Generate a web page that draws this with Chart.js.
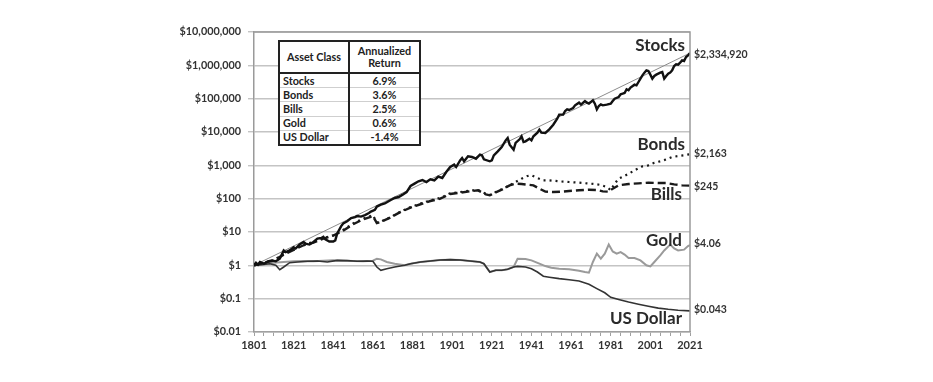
<!DOCTYPE html>
<html>
<head>
<meta charset="utf-8">
<script src="https://cdn.jsdelivr.net/npm/chart.js@4.4.1/dist/chart.umd.min.js"></script>
<style>
  html, body { margin: 0; padding: 0; background: #fff; }
  #wrap { position: relative; width: 933px; height: 382px; }
  #c { position: absolute; left: 0; top: 0; }
  #tbl {
    position: absolute; left: 278px; top: 40px; width: 141px; height: 106px;
    border-collapse: collapse; border: 2px solid #222; background: #fff;
    font-family: Lato, "Open Sans", sans-serif; font-weight: bold; font-size: 10.8px; color: #222;
    table-layout: fixed;
  }
  #tbl td, #tbl th { padding: 0 3px; line-height: 12px; border-bottom: 1px solid #cfcfcf; }
  #tbl th { font-weight: bold; text-align: center; border-bottom: 2px solid #222; height: 30px; }
  #tbl .c1 { border-right: 2px solid #222; text-align: left; }
  #tbl th.c1 { text-align: center; }
  #tbl .c2 { text-align: center; }
</style>
</head>
<body>
<div id="wrap">
  <canvas id="c" width="933" height="382"></canvas>
  <table id="tbl">
    <colgroup><col style="width:70px"><col style="width:71px"></colgroup>
    <thead><tr><th class="c1">Asset Class</th><th class="c2">Annualized<br>Return</th></tr></thead>
    <tbody id="tbody"></tbody>
  </table>
</div>
<script>
// ---------- data ----------
const stockYears = [1801,1802,1803,1804,1806,1808,1810,1812,1814,1816,1817,1819,1821,1822,1824,1826,1827,1829,1831,1833,1835,1836,1837,1839,1841,1842,1843,1845,1846,1848,1850,1852,1853,1855,1857,1859,1860,1862,1863,1865,1867,1870,1872,1874,1876,1878,1880,1882,1884,1886,1888,1890,1892,1894,1896,1898,1900,1902,1903,1905,1906,1907,1909,1911,1913,1915,1916,1917,1920,1921,1922,1924,1926,1928,1929,1930,1932,1933,1935,1936,1937,1938,1940,1941,1942,1944,1945,1946,1948,1950,1952,1954,1955,1957,1958,1959,1960,1962,1963,1965,1966,1968,1969,1970,1972,1973,1974,1975,1976,1977,1979,1981,1982,1983,1985,1986,1987,1988,1989,1990,1991,1993,1994,1995,1996,1997,1998,1999,2000,2001,2002,2003,2004,2006,2007,2008,2009,2010,2011,2012,2013,2014,2015,2016,2017,2018,2019,2020,2021];
const stockValues = [1,1.2,1.05,1.26,1.12,1.32,1.41,1.32,1.58,2.8,2.5,2.8,3.5,3.2,4.2,5.0,4.5,4.2,5.0,6.3,6.6,7.2,6.0,5.2,5.2,5.6,9.1,15,18,21,26,28,30,29,32,37,41,46,58,66,72,91,105,112,132,158,240,282,331,363,316,380,355,457,417,631,891,1050,891,1410,1660,1320,1860,1780,1580,2090,2000,1510,1320,1410,2000,2630,3550,5620,6610,4170,2950,4680,6030,7410,5010,5250,6310,5620,7410,9550,11750,9550,9330,12000,16600,25100,33100,33100,42700,47900,45700,52500,63100,75900,66100,85100,75900,70800,89100,70800,47900,60300,67600,63100,66100,70800,85100,100000,112000,135000,141000,148000,191000,178000,214000,263000,251000,316000,398000,501000,603000,708000,676000,525000,398000,479000,525000,603000,631000,398000,479000,562000,603000,708000,955000,1070000,1050000,1200000,1410000,1350000,1780000,2000000,2334920];

const bondYears = [1801,1806,1811,1816,1821,1826,1831,1836,1841,1846,1851,1856,1861,1863,1865,1870,1875,1880,1885,1890,1895,1900,1905,1910,1914,1918,1920,1923,1926,1930,1933,1936,1939,1941,1944,1947,1950,1955,1960,1965,1969,1973,1976,1979,1981,1983,1985,1988,1991,1994,1997,2000,2003,2006,2009,2012,2015,2018,2021];
const bondValues = [1,1.2,1.4,2.2,3.0,4.2,5.0,6.5,8.0,11.5,18,25,32,19,20.4,28,41,56,71,89,105,145,158,174,182,141,129,158,190,251,316,398,479,501,417,355,355,331,316,302,288,275,257,224,182,282,398,479,603,759,933,1000,1200,1320,1510,1780,1900,2000,2163];

const billYears = [1801,1806,1811,1816,1821,1826,1831,1836,1841,1846,1851,1856,1861,1863,1865,1870,1875,1880,1885,1890,1895,1900,1905,1910,1914,1918,1920,1923,1926,1930,1933,1936,1939,1942,1945,1948,1952,1956,1960,1965,1970,1974,1977,1980,1982,1985,1990,1995,2000,2005,2009,2013,2017,2021];
const billValues = [1,1.2,1.4,2.1,2.9,4.0,4.8,6.3,7.8,11,17,24,30,18.6,20,27.5,40,54,68,85,100,138,151,166,178,135,126,155,186,251,282,275,263,251,200,162,158,162,170,178,186,182,166,162,200,251,275,288,302,295,295,269,251,245];

const goldYears = [1801,1806,1811,1816,1821,1826,1831,1836,1841,1846,1851,1856,1861,1863,1865,1868,1872,1877,1880,1885,1890,1895,1900,1905,1910,1915,1917,1920,1923,1926,1929,1932,1934,1938,1941,1945,1948,1951,1955,1960,1965,1968,1970,1972,1974,1976,1978,1980,1982,1984,1986,1988,1990,1993,1996,1999,2001,2003,2006,2008,2011,2013,2015,2018,2020,2021];
const goldValues = [1,1.12,1.2,1.26,1.32,1.35,1.32,1.38,1.41,1.38,1.35,1.32,1.38,1.58,1.51,1.26,1.12,1.0,1.12,1.26,1.35,1.45,1.48,1.45,1.35,1.26,1.12,0.63,0.71,0.71,0.76,0.89,1.58,1.55,1.41,1.12,0.95,0.85,0.79,0.76,0.69,0.63,0.6,1.26,2.24,1.58,2.24,4.2,2.6,2.24,2.5,2.1,1.66,1.66,1.41,1.0,0.93,1.26,2.0,2.8,4.2,3.2,2.8,2.95,3.8,4.06];

const dollarYears = [1801,1805,1809,1812,1814,1816,1819,1823,1828,1833,1838,1843,1848,1853,1858,1861,1863,1865,1868,1872,1877,1880,1885,1890,1895,1900,1905,1910,1915,1917,1920,1923,1926,1929,1932,1934,1938,1941,1944,1947,1950,1955,1960,1965,1970,1974,1978,1981,1985,1990,1995,2000,2005,2010,2015,2021];
const dollarValues = [1,1.05,1.12,1,0.74,0.89,1.2,1.26,1.32,1.35,1.26,1.41,1.38,1.32,1.35,1.32,0.89,0.71,0.79,0.89,1.0,1.12,1.26,1.35,1.45,1.48,1.45,1.35,1.26,1.12,0.63,0.71,0.71,0.76,0.89,0.93,0.89,0.79,0.63,0.47,0.44,0.4,0.37,0.34,0.27,0.2,0.15,0.11,0.095,0.079,0.068,0.059,0.052,0.048,0.045,0.043];

const trendYears = [1801, 2021];
const trendValues = [1, 2334920];

const seriesNames = ['Stocks','Bonds','Bills','Gold','US Dollar'];
const endLabels = ['$2,334,920','$2,163','$245','$4.06','$0.043'];
const annualReturns = ['6.9%','3.6%','2.5%','0.6%','-1.4%'];

const yTickValues = [0.01,0.1,1,10,100,1000,10000,100000,1000000,10000000];
const yTickLabels = ['$0.01','$0.1','$1','$10','$100','$1,000','$10,000','$100,000','$1,000,000','$10,000,000'];
const xTickLabels = ['1801','1821','1841','1861','1881','1901','1921','1941','1961','1981','2001','2021'];

// ---------- table ----------
const tb = document.getElementById('tbody');
seriesNames.forEach((n, i) => {
  const tr = document.createElement('tr');
  tr.innerHTML = '<td class="c1">' + n + '</td><td class="c2">' + annualReturns[i] + '</td>';
  if (i === seriesNames.length - 1) tr.querySelectorAll('td').forEach(td => td.style.borderBottom = 'none');
  tb.appendChild(tr);
});

// ---------- chart ----------
const pts = (xs, ys) => xs.map((x, i) => ({ x: x, y: ys[i] }));
const FONT = 'Lato, "Open Sans", sans-serif';

const labelPlugin = {
  id: 'labels',
  afterDatasetsDraw(chart) {
    const { ctx, chartArea, scales } = chart;
    const ys = scales.y, xs = scales.x;
    ctx.save();
    ctx.strokeStyle = '#9a9a9a';
    ctx.lineWidth = 1.5;
    ctx.beginPath();
    ctx.moveTo(chartArea.left, chartArea.top);
    ctx.lineTo(chartArea.right, chartArea.top);
    ctx.lineTo(chartArea.right, chartArea.bottom);
    ctx.stroke();

    const finals = [stockValues, bondValues, billValues, goldValues, dollarValues].map(a => a[a.length - 1]);
    ctx.fillStyle = '#333';
    ctx.font = 'bold 10.5px ' + FONT;
    ctx.textAlign = 'left';
    ctx.textBaseline = 'middle';
    const xr = xs.getPixelForValue(2021);
    const yShift = [2, -1, 1, -1, -1];
    finals.forEach((v, i) => {
      ctx.fillText(endLabels[i], xr + 4, ys.getPixelForValue(v) + yShift[i]);
    });
    ctx.font = 'bold 17px ' + FONT;
    ctx.fillStyle = '#2a2a2a';
    ctx.textAlign = 'right';
    const anchors = [4.0e6, 4200, 130, 5.6, 0.025];
    const rightPad = [5, 5, 8, 8, 8];
    anchors.forEach((v, i) => {
      ctx.fillText(seriesNames[i], xr - rightPad[i], ys.getPixelForValue(v));
    });
    ctx.restore();
  }
};

new Chart(document.getElementById('c'), {
  type: 'line',
  data: {
    datasets: [
      { label: 'Stocks', data: pts(stockYears, stockValues), borderColor: '#111', borderWidth: 2.4 },
      { label: 'Bonds', data: pts(bondYears, bondValues), borderColor: '#1a1a1a', borderWidth: 2.2, borderDash: [2, 4] },
      { label: 'Bills', data: pts(billYears, billValues), borderColor: '#1a1a1a', borderWidth: 2.4, borderDash: [8, 4] },
      { label: 'US Dollar', data: pts(dollarYears, dollarValues), borderColor: '#333', borderWidth: 1.6 },
      { label: 'Gold', data: pts(goldYears, goldValues), borderColor: '#9a9a9a', borderWidth: 2 },
      { label: 'Trend', data: pts(trendYears, trendValues), borderColor: '#8c8c8c', borderWidth: 1 }
    ]
  },
  options: {
    responsive: false,
    animation: false,
    elements: { point: { radius: 0 }, line: { tension: 0 } },
    layout: { padding: { left: 0, right: 243, top: 32, bottom: 0 } },
    plugins: { legend: { display: false }, tooltip: { enabled: false } },
    scales: {
      x: {
        type: 'linear', min: 1801, max: 2021,
        afterFit: s => { s.height = 50; },
        afterBuildTicks: s => {
          const t = [];
          for (let y = 1801; y <= 2021; y += 5) t.push({ value: y });
          s.ticks = t;
        },
        ticks: {
          autoSkip: false, maxRotation: 0, padding: 3,
          color: '#333', font: { family: FONT, weight: 'bold', size: 11 },
          callback: v => (xTickLabels.includes(String(v)) ? String(v) : '')
        },
        grid: { drawOnChartArea: false, drawTicks: true, tickLength: 4, color: '#a0a0a0', lineWidth: 1 },
        border: { color: '#a0a0a0', width: 1.5 }
      },
      y: {
        type: 'logarithmic', min: 0.01, max: 10000000,
        afterFit: s => { s.width = 254; },
        afterBuildTicks: s => { s.ticks = yTickValues.map(v => ({ value: v })); },
        ticks: {
          autoSkip: false, padding: 7,
          color: '#333', font: { family: FONT, weight: 'bold', size: 10.8 },
          callback: (v) => { const i = yTickValues.indexOf(v); return i >= 0 ? yTickLabels[i] : ''; }
        },
        grid: { color: '#c4c4c4', lineWidth: 1.4, tickLength: 6 },
        border: { color: '#9a9a9a', width: 1.5 }
      }
    }
  },
  plugins: [labelPlugin]
});
</script>
</body>
</html>
